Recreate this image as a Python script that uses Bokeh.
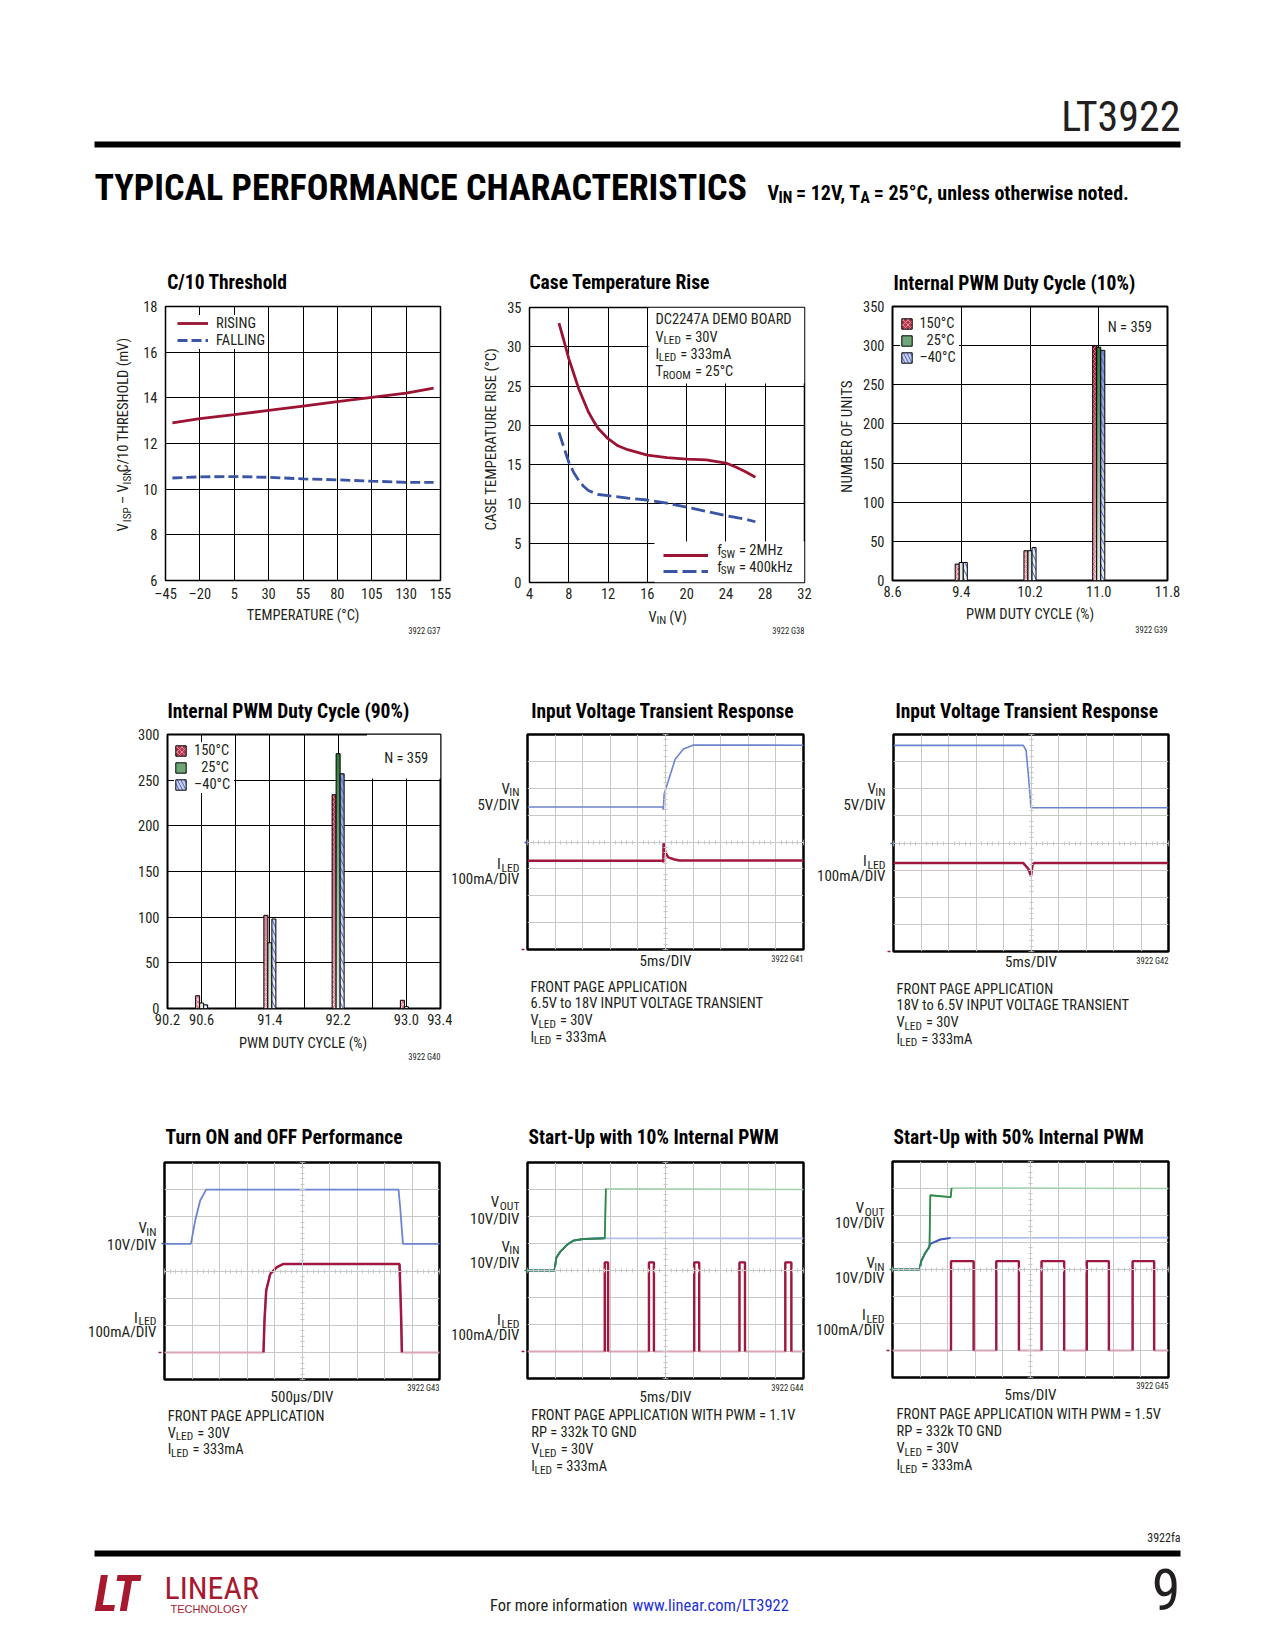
import numpy as np
from bokeh.plotting import figure
from bokeh.models import (Range1d, FixedTicker, Label, Legend, LegendItem, LinearAxis, Grid,
                          BoxAnnotation, NumeralTickFormatter, CustomJSTickFormatter)
from bokeh.layouts import column, row
from bokeh.embed import file_html
from bokeh.resources import INLINE

# ------------------------------------------------------------------ data
# C/10 Threshold (G37)
c10_temp_c = [-40, -20, 5, 30, 55, 80, 105, 130, 150]
c10_rising_mv = [12.90, 13.09, 13.26, 13.45, 13.64, 13.83, 14.02, 14.21, 14.43]
c10_falling_mv = [10.49, 10.54, 10.55, 10.52, 10.45, 10.41, 10.35, 10.30, 10.30]
c10_x_ticks = [-45, -20, 5, 30, 55, 80, 105, 130, 155]
c10_y_ticks = [6, 8, 10, 12, 14, 16, 18]

# Case Temperature Rise (G38)
ctr_vin_2mhz = [7, 7.5, 8, 8.5, 9, 9.5, 10, 10.5, 11, 12, 13, 14, 16, 18, 20, 22, 24, 25, 26, 27]
ctr_rise_2mhz = [33.0, 30.8, 28.5, 26.6, 24.7, 23.2, 21.7, 20.6, 19.6, 18.3, 17.4, 16.9, 16.2, 15.9,
                 15.7, 15.6, 15.2, 14.7, 14.1, 13.4]
ctr_vin_400k = [7, 7.5, 8, 8.5, 9, 9.5, 10, 11, 12, 14, 16, 18, 20, 22, 24, 26, 27]
ctr_rise_400k = [19.1, 17.2, 15.3, 14.0, 13.0, 12.25, 11.7, 11.2, 11.05, 10.75, 10.5, 10.1, 9.6,
                 9.05, 8.5, 8.07, 7.73]
ctr_x_ticks = [4, 8, 12, 16, 20, 24, 28, 32]
ctr_y_ticks = [0, 5, 10, 15, 20, 25, 30, 35]

# Internal PWM Duty Cycle 10% (G39)
d10_bins = [9.4, 10.2, 11.0]
d10_n_150c = [21, 38, 300]
d10_n_25c = [23, 38, 298]
d10_n_m40c = [23, 42, 294]
d10_x_ticks = [8.6, 9.4, 10.2, 11.0, 11.8]
d10_y_ticks = [0, 50, 100, 150, 200, 250, 300, 350]

# Internal PWM Duty Cycle 90% (G40)
d90_bins = [90.6, 91.4, 92.2, 93.0]
d90_n_150c = [14, 102, 234, 9]
d90_n_25c = [6, 72, 279, 2]
d90_n_m40c = [4, 98, 257, 0]
d90_x_ticks = [90.2, 90.6, 91.4, 92.2, 93.0, 93.4]
d90_x_grid = [90.6, 91.0, 91.4, 91.8, 92.2, 92.6, 93.0]
d90_y_ticks = [0, 50, 100, 150, 200, 250, 300]

# Input voltage transient 6.5V -> 18V (G41), time in ms
g41_vin_t = [0, 24.5, 24.6, 24.75, 26.75, 28.25, 30.1, 50]
g41_vin_v = [6.5, 6.5, 6.0, 8.9, 15.4, 17.3, 18.05, 18.0]
g41_iled_t = [0, 24.5, 24.6, 24.65, 25.0, 25.5, 26.5, 27.5, 50]
g41_iled_ma = [330, 330, 325, 395, 360, 343, 336, 331, 331]

# Input voltage transient 18V -> 6.5V (G42)
g42_vin_t = [0, 23.6, 24.1, 24.5, 25.0, 50]
g42_vin_v = [18.0, 18.0, 17.1, 12.8, 6.5, 6.5]
g42_iled_t = [0, 23.6, 24.5, 25.0, 25.3, 25.6, 50]
g42_iled_ma = [326, 326, 305, 278, 321, 326, 326]

# Turn ON and OFF (G43), time in us
g43_vin_t = [0, 480, 558, 649, 758, 4255, 4285, 4335, 5000]
g43_vin_v = [0, 0, 8.6, 16.0, 20.0, 20.0, 13.5, 0, 0]
g43_iled_t = [0, 1800, 1818, 1849, 1922, 2044, 2164, 4273, 4300, 4316, 5000]
g43_iled_ma = [0, 0, 117, 228, 289, 314, 326, 326, 150, 0, 0]

# Start-up with 10% internal PWM (G44), time in ms
g44_vout_t = [0, 4.9, 5.2, 5.95, 7.15, 8.35, 10.2, 13.8, 14.0, 14.2, 50]
g44_vout_v = [0, 0, 4.6, 7.0, 9.5, 11.1, 11.7, 11.9, 11.9, 30.3, 30.0]
g44_vin_t = [0, 4.9, 5.2, 5.95, 7.15, 8.35, 10.2, 13.8, 50]
g44_vin_v = [0, 0, 4.6, 7.0, 9.5, 11.1, 11.7, 11.9, 11.9]
g44_pulse_rise_ms = [14.0, 22.0, 30.2, 38.4, 46.7]
g44_pulse_fall_ms = [14.6, 22.9, 31.1, 39.4, 47.8]
g44_pulse_ma = 330

# Start-up with 50% internal PWM (G45)
g45_vout_t = [0, 4.9, 5.2, 5.95, 6.55, 6.7, 6.85, 10.45, 10.55, 10.7, 50]
g45_vout_v = [0, 0, 3.1, 6.2, 8.0, 8.3, 27.5, 26.8, 26.8, 30.2, 30.0]
g45_vin_t = [0, 4.9, 5.2, 5.95, 6.55, 6.85, 8.65, 10.5, 50]
g45_vin_v = [0, 0, 3.1, 6.2, 8.0, 9.5, 11.1, 11.7, 11.8]
g45_pulse_rise_ms = [10.6, 18.8, 27.0, 35.2, 43.5]
g45_pulse_fall_ms = [14.7, 22.9, 31.1, 39.2, 47.4]
g45_pulse_ma = 331

# ------------------------------------------------------------------ style
FONT = "Liberation Sans Narrow, Roboto Condensed, DejaVu Sans Condensed, sans-serif"
FONT_WIDE = "Liberation Sans, Arial, sans-serif"
INK = "#231f20"
RED = "#9c1433"
BLUE = "#3a55a6"
GRID_S = "#c8c8c8"
VIN_MID = "#6d84cf"
VIN_DARK = "#3f5cbd"
VIN_LIGHT = "#b3c0ea"
VOUT_DARK = "#2e8a43"
VOUT_LIGHT = "#a6d4ae"
ILED_DARK = "#a0183f"
ILED_PINK = "#d8a6b5"
RED_HI, RED_LO = "#991530", "#f2c6cd"
GRN_HI, GRN_LO = "#2c7a39", "#e8f0e8"
BLU_HI, BLU_LO = "#8290d0", "#eff1fa"
BAR_W = 0.047
BAR_OFF = 0.047
BODY = 14.5
SUB_SCALE = 0.78
SUB_DROP = 0.25

# Arial advance widths (1/1000 em), scaled for the condensed face
W = {' ': 278, '!': 278, '%': 889, '(': 333, ')': 333, ',': 278, '-': 333, '.': 278, '/': 278,
     ':': 278, '=': 584, '°': 400, '–': 556, 'µ': 577, '\u2007': 556}
for ch in '0123456789':
    W[ch] = 556
W.update(dict(zip('ABCDEFGHIJKLMNOPQRSTUVWXYZ',
                  [667, 667, 722, 722, 667, 611, 778, 722, 278, 500, 667, 556, 833, 722, 778, 667,
                   778, 722, 667, 611, 722, 667, 944, 667, 667, 611])))
W.update(dict(zip('abcdefghijklmnopqrstuvwxyz',
                  [556, 556, 500, 556, 556, 278, 556, 556, 222, 222, 500, 222, 833, 556, 556, 556,
                   556, 333, 500, 278, 556, 500, 722, 500, 500, 500])))


def tw(s, size, scale=1.0):
    return sum(W.get(c, 556) * (0.82 if c.isupper() else 0.86) for c in s) * size / 1000.0 * scale


def put(fig, G, px, py, segs, size, color=INK, align="left", bold=False, italic=False,
        angle=0.0, font=FONT, scale=1.0, gap=0.0):
    """Text at page pixel (px, py) = cap centre. G=None: fig uses page coords as data."""
    if isinstance(segs, str):
        segs = [(segs, 0)]
    ssz = size * SUB_SCALE
    ws = [tw(t, ssz if s else size, scale) for t, s in segs]
    tot = sum(ws) + gap * (len(ws) - 1)
    style = ("bold " if bold else "") + ("italic" if italic else "")
    style = style.strip() or "normal"
    placed = []   # (text, x, y, text_align, size)
    if angle == 0.0 and align == "right":
        xr = px
        for (t, s), w in reversed(list(zip(segs, ws))):
            placed.append((t.lstrip(' '), xr, py + (size * SUB_DROP if s else 0.0), "right",
                           ssz if s else size))
            xr -= w
    elif len(segs) == 1 and (angle != 0.0 or align == "center"):
        placed.append((segs[0][0], px, py, "center", size))
    else:
        pos = {"left": 0.0, "right": -tot, "center": -tot / 2}[align]
        for (t, s), w in zip(segs, ws):
            sz = ssz if s else size
            drop = size * SUB_DROP if s else 0.0
            body = t.lstrip(' ')
            lead = tw(t[:len(t) - len(body)], sz, scale)
            if angle == 0.0:
                placed.append((body, px + pos + lead, py + drop, "left", sz))
            else:
                placed.append((body, px + drop, py - (pos + lead + (w - lead) / 2), "center", sz))
            pos += w + gap
    for body, xp, yp, al, sz in placed:
        if G is None:
            kw = dict(x=xp, y=yp, x_units="data", y_units="data")
        else:
            kw = dict(x=xp - G['L'], y=G['B'] - yp, x_units="screen", y_units="screen")
        fig.add_layout(Label(text=body, text_font=font, text_font_size="%.1fpx" % sz,
                             text_color=color, text_align=al, text_baseline="middle",
                             text_font_style=style, angle=angle, **kw))


def page_fig(x0, y0, x1, y1):
    p = figure(width=int(x1 - x0), height=int(y1 - y0), x_range=Range1d(x0, x1),
               y_range=Range1d(y1, y0), x_axis_type=None, y_axis_type=None,
               toolbar_location=None, output_backend="svg", title=None, min_border=0)
    p.outline_line_color = None
    p.border_fill_color = "white"
    p.background_fill_color = "white"
    return p


COLS = [(0, 452), (452, 362), (814, 461)]
ROWS = [(250, 405), (655, 430), (1085, 405)]


def cell(c, r, L, T, R, B, mbl, mbt, mbb):
    cx, cw = COLS[c]
    ry, rh = ROWS[r]
    C = dict(L=L, T=T, R=R, B=B, cx=cx, cw=cw, ry=ry, rh=rh, mbl=mbl, mbt=mbt, mbb=mbb,
             fx0=L - mbl, fy0=T - mbt, fy1=B + mbb)
    C['top'] = page_fig(cx, ry, cx + cw, C['fy0'])
    C['left'] = page_fig(cx, C['fy0'], C['fx0'], C['fy1'])
    C['bottom'] = page_fig(cx, C['fy1'], cx + cw, ry + rh)
    return C


def chart_fig(C, xr, yr, axes=True):
    kw = dict(width=C['cx'] + C['cw'] - C['fx0'], height=C['fy1'] - C['fy0'], x_range=xr, y_range=yr,
              toolbar_location=None, output_backend="svg", title=None,
              min_border_left=C['mbl'], min_border_right=C['cx'] + C['cw'] - C['R'],
              min_border_top=C['mbt'], min_border_bottom=C['mbb'])
    if not axes:
        kw.update(x_axis_type=None, y_axis_type=None)
    p = figure(**kw)
    p.border_fill_color = "white"
    p.background_fill_color = "white"
    C['fig'] = p
    return p


def cell_layout(C):
    return column(C['top'], row(C['left'], C['fig']), C['bottom'])


def style_xy(p, xticks, yticks, xgrid, ygrid):
    p.outline_line_color = "black"
    p.outline_line_width = 1.5
    p.xaxis.ticker = FixedTicker(ticks=xticks)
    p.yaxis.ticker = FixedTicker(ticks=yticks)
    p.xgrid.ticker = FixedTicker(ticks=xgrid)
    p.ygrid.ticker = FixedTicker(ticks=ygrid)
    p.grid.grid_line_color = "black"
    p.grid.grid_line_width = 1
    p.axis.axis_line_color = None
    p.axis.major_tick_line_color = None
    p.axis.minor_tick_line_color = None
    p.axis.major_tick_out = 0
    p.axis.major_tick_in = 0
    p.axis.major_label_text_font = FONT
    p.axis.major_label_text_font_size = "%.1fpx" % BODY
    p.axis.major_label_text_color = INK
    p.xaxis.major_label_standoff = 5
    p.yaxis.major_label_standoff = 8


def legend(p, C, items, x0, row_c, glyph_w, glyph_h, standoff, label_w=20, row_h=16.2, pad=5,
           bg_alpha=1.0):
    n = len(items)
    top = row_c - row_h / 2 - pad
    bottom = top + 2 * pad + n * row_h
    leg = Legend(items=items, location=(x0 - C['L'], C['B'] - bottom + 1.5), orientation="vertical",
                 glyph_width=glyph_w, glyph_height=glyph_h, label_standoff=standoff,
                 label_width=label_w, label_height=16, padding=pad, margin=0, spacing=0,
                 border_line_color=None, background_fill_color="white", background_fill_alpha=bg_alpha,
                 label_text_font=FONT, label_text_font_size="%.1fpx" % BODY, label_text_color=INK)
    p.add_layout(leg)


def lerp(c0, c1, t):
    a = [int(c0[i:i + 2], 16) for i in (1, 3, 5)]
    b = [int(c1[i:i + 2], 16) for i in (1, 3, 5)]
    return "#%02x%02x%02x" % tuple(int(round(a[k] + (b[k] - a[k]) * t)) for k in range(3))


def grad_bars(p, centers, vals, off, lo, hi, vmax, hatch, hcolor, hscale, step=4.0):
    xs, bots, tops, cols, hx, ht = [], [], [], [], [], []
    for c, v in zip(centers, vals):
        if v <= 0:
            continue
        x = c + off
        hx.append(x)
        ht.append(v)
        b = 0.0
        while b < v:
            xs.append(x)
            bots.append(b)
            tops.append(min(v, b + step * 1.3))
            cols.append(lerp(lo, hi, min(1.0, (b + step / 2) / vmax)))
            b += step
    p.vbar(x=xs, bottom=bots, top=tops, width=BAR_W, fill_color=cols, line_color=None)
    p.vbar(x=hx, bottom=0, top=ht, width=BAR_W, fill_color=None, line_color="black", line_width=1,
           hatch_pattern=hatch, hatch_color=hcolor, hatch_scale=hscale, hatch_weight=1)


def bar_legend_items(p, xr):
    far = xr[1] + 10 * (xr[1] - xr[0])      # legend proxy, outside the visible range
    specs = [("150°C", "#b33a50", "x", "#e58a99", 5),
             ("\u200725°C", "#6ea677", None, "#ffffff", 5),
             ("–40°C", "#c8cfee", "\\", "#4d66c4", 7)]
    items = []
    for lab, col, hat, hcol, hs in specs:
        r = p.vbar(x=[far], top=[1], width=BAR_W, fill_color=col, line_color="black", line_width=1,
                   hatch_pattern=hat, hatch_color=hcol, hatch_scale=hs)
        items.append(LegendItem(label=lab, renderers=[r]))
    return items


def page_to_data(C, xr, yr, px, py):
    x = xr[0] + (px - C['L']) / (C['R'] - C['L']) * (xr[1] - xr[0])
    y = yr[0] + (C['B'] - py) / (C['B'] - C['T']) * (yr[1] - yr[0])
    return x, y


BLANK = CustomJSTickFormatter(code="return ''")


def make_scope(C, t_end, yranges, markers):
    p = chart_fig(C, Range1d(0, t_end), Range1d(0, 8), axes=False)
    p.extra_y_ranges = yranges
    p.outline_line_color = "black"
    p.outline_line_width = 2.5
    p.add_layout(Grid(dimension=0, ticker=FixedTicker(ticks=[t_end * k / 10 for k in range(1, 10)]),
                      grid_line_color=GRID_S, grid_line_width=1))
    p.add_layout(Grid(dimension=1, ticker=FixedTicker(ticks=list(range(1, 8))),
                      grid_line_color=GRID_S, grid_line_width=1))
    for rname, col in markers:
        ax = LinearAxis(y_range_name=rname, ticker=FixedTicker(ticks=[0]), formatter=BLANK,
                        axis_line_color=None, major_tick_line_color=col, major_tick_line_width=1.5,
                        major_tick_in=0, major_tick_out=3, major_label_standoff=0,
                        major_label_text_font_size="0px", minor_tick_line_color=None)
        p.add_layout(ax, "left")
    hx = LinearAxis(fixed_location=4,
                    ticker=FixedTicker(ticks=[t_end * k / 10 for k in range(11)],
                                       minor_ticks=[t_end * k / 50 for k in range(51)]),
                    formatter=BLANK, axis_line_color=GRID_S, major_tick_line_color=GRID_S,
                    minor_tick_line_color=GRID_S, major_tick_in=3, major_tick_out=3,
                    minor_tick_in=2, minor_tick_out=2, major_label_standoff=0,
                    major_label_text_font_size="0px")
    p.add_layout(hx, "below")
    vy = LinearAxis(fixed_location=t_end / 2,
                    ticker=FixedTicker(ticks=list(range(9)), minor_ticks=[k * 0.2 for k in range(41)]),
                    formatter=BLANK, axis_line_color=GRID_S, major_tick_line_color=GRID_S,
                    minor_tick_line_color=GRID_S, major_tick_in=3, major_tick_out=3,
                    minor_tick_in=2, minor_tick_out=2, major_label_standoff=0,
                    major_label_text_font_size="0px")
    p.add_layout(vy, "right")
    return p


def active(y, thr=5.0):
    y = np.asarray(y, dtype=float)
    a = np.abs(y) > thr
    a2 = a | np.r_[a[1:], False] | np.r_[False, a[:-1]]
    return np.where(a2, y, np.nan)


def pulse_trace(t_end, rises, falls, level):
    t, y, td, yd = [0.0], [0.0], [], []
    for r, f in zip(rises, falls):
        t += [r, r, f, f]
        y += [0, level, level, 0]
        td += [r, r, f, f, np.nan]
        yd += [0, level, level, 0, np.nan]
    t.append(t_end)
    y.append(0)
    return t, y, np.array(td, float), np.array(yd, float)


def early(t, v, t_max):
    t = np.asarray(t, float)
    v = np.asarray(v, float)
    m = t <= t_max
    return t[m], v[m]


def note(fig, G, x, y0, lines, pitch=16.7, size=BODY):
    for k, ln in enumerate(lines):
        put(fig, G, x, y0 + k * pitch, ln, size)


def title(C, x, y, text):
    put(C['top'], None, x, y, text, 19.5, color="black", bold=True)


VLED = [("V", 0), ("LED", 1), (" = 30V", 0)]
ILED = [("I", 0), ("LED", 1), (" = 333mA", 0)]
VIN_ = [("V", 0), ("IN", 1)]
IL_ = [("I", 0), ("LED", 1)]
VOUT_ = [("V", 0), ("OUT", 1)]

# ------------------------------------------------------------------ chart 1
C1 = cell(0, 0, 165, 306, 440, 581, 30, 10, 24)
x1, y1 = (-45, 155), (6, 18)
p1 = chart_fig(C1, Range1d(*x1), Range1d(*y1))
style_xy(p1, c10_x_ticks, c10_y_ticks, c10_x_ticks[1:-1], c10_y_ticks[1:-1])
p1.xaxis.major_label_overrides = {-45: "–45", -20: "–20"}
r_rise = p1.line(c10_temp_c, c10_rising_mv, line_color=RED, line_width=2.8)
r_fall = p1.line(c10_temp_c, c10_falling_mv, line_color=BLUE, line_width=2.8, line_dash="10 4")
legend(p1, C1, [LegendItem(label="RISING", renderers=[r_rise]),
                LegendItem(label="FALLING", renderers=[r_fall])],
       x0=177, row_c=321.7, glyph_w=31, glyph_h=16, standoff=8)
title(C1, 166.7, 282, "C/10 Threshold")
put(C1['left'], None, 123.3, 445,
    [("V", 0), ("ISP", 1), (" – V", 0), ("ISN", 1), (" C/10 THRESHOLD (mV)", 0)],
    14.5, align="center", angle=np.pi / 2, gap=3.0)
put(C1['bottom'], None, 302.5, 615, "TEMPERATURE (°C)", BODY, align="center")
put(C1['bottom'], None, 440, 630, "3922 G37", 8.5, align="right")

# ------------------------------------------------------------------ chart 2
C2 = cell(1, 0, 529, 307, 804, 582, 27, 10, 24)
x2, y2 = (4, 32), (0, 35)
p2 = chart_fig(C2, Range1d(*x2), Range1d(*y2))
style_xy(p2, ctr_x_ticks, ctr_y_ticks, ctr_x_ticks[1:-1], ctr_y_ticks[1:-1])
bx, by = page_to_data(C2, x2, y2, 648, 383)
p2.add_layout(BoxAnnotation(left=bx, bottom=by, fill_color="white", fill_alpha=1.0,
                            line_color=None, level="underlay"))
lx, ly = page_to_data(C2, x2, y2, 654, 541)
p2.add_layout(BoxAnnotation(left=lx, top=ly, fill_color="white", fill_alpha=1.0,
                            line_color=None, level="underlay"))
r_2m = p2.line(ctr_vin_2mhz, ctr_rise_2mhz, line_color=RED, line_width=2.8)
r_4k = p2.line(ctr_vin_400k, ctr_rise_400k, line_color=BLUE, line_width=2.8, line_dash="14 5")
legend(p2, C2, [LegendItem(label="", renderers=[r_2m]), LegendItem(label="", renderers=[r_4k])],
       x0=662.7, row_c=550, glyph_w=45, glyph_h=16, standoff=9, label_w=78, row_h=16.7,
       bg_alpha=0.0)
put(p2, C2, 716.7, 550, [("f", 0), ("SW", 1), (" = 2MHz", 0)], BODY)
put(p2, C2, 716.7, 566.7, [("f", 0), ("SW", 1), (" = 400kHz", 0)], BODY)
title(C2, 529, 282, "Case Temperature Rise")
put(C2['left'], None, 490.7, 445, "CASE TEMPERATURE RISE (°C)", 15, angle=np.pi / 2)
put(C2['bottom'], None, 666.5, 616.7, [("V", 0), ("IN", 1), (" (V)", 0)], BODY, align="center")
put(C2['bottom'], None, 804, 630, "3922 G38", 8.5, align="right")
note(p2, C2, 655, 319.3, ["DC2247A DEMO BOARD", VLED, ILED,
                          [("T", 0), ("ROOM", 1), (" = 25°C", 0)]], pitch=17.2)

# ------------------------------------------------------------------ chart 3
C3 = cell(2, 0, 892, 306, 1167, 580, 32, 10, 24)
x3, y3 = (8.6, 11.8), (0, 350)
p3 = chart_fig(C3, Range1d(*x3), Range1d(*y3))
style_xy(p3, d10_x_ticks, d10_y_ticks, d10_x_ticks[1:-1], d10_y_ticks[1:-1])
p3.outline_line_width = 2
p3.xaxis.formatter = NumeralTickFormatter(format="0.0")
grad_bars(p3, d10_bins, d10_n_150c, -BAR_OFF, RED_LO, RED_HI, 300, "x", "#df7a8b", 5)
grad_bars(p3, d10_bins, d10_n_25c, 0.0, GRN_LO, GRN_HI, 300, None, "#ffffff", 5)
grad_bars(p3, d10_bins, d10_n_m40c, BAR_OFF, BLU_LO, BLU_HI, 300, "\\", "#4d66c4", 9)
legend(p3, C3, bar_legend_items(p3, x3), x0=900.4, row_c=322.3, glyph_w=13, glyph_h=13,
       standoff=6, label_w=40)
title(C3, 893, 283, "Internal PWM Duty Cycle (10%)")
put(C3['left'], None, 846, 442.3, "NUMBER OF UNITS", 15, angle=np.pi / 2)
put(C3['bottom'], None, 1029.5, 614.3, "PWM DUTY CYCLE (%)", BODY, align="center")
put(p3, C3, 1107.3, 326.7, "N = 359", BODY)
put(C3['bottom'], None, 1167, 629.3, "3922 G39", 8.5, align="right")

# ------------------------------------------------------------------ chart 4
C4 = cell(0, 1, 165, 734, 440, 1008, 30, 10, 24)
x4, y4 = (90.2, 93.4), (0, 300)
p4 = chart_fig(C4, Range1d(*x4), Range1d(*y4))
style_xy(p4, d90_x_ticks, d90_y_ticks, d90_x_grid, d90_y_ticks[1:-1])
p4.outline_line_width = 2
p4.xaxis.formatter = NumeralTickFormatter(format="0.0")
nbx, nby = page_to_data(C4, x4, y4, 366, 778)
p4.add_layout(BoxAnnotation(left=nbx, bottom=nby, fill_color="white", fill_alpha=1.0,
                            line_color=None, level="underlay"))
grad_bars(p4, d90_bins, d90_n_150c, -BAR_OFF, RED_LO, RED_HI, 280, "x", "#df7a8b", 5)
grad_bars(p4, d90_bins, d90_n_25c, 0.0, GRN_LO, GRN_HI, 280, None, "#ffffff", 5)
grad_bars(p4, d90_bins, d90_n_m40c, BAR_OFF, BLU_LO, BLU_HI, 280, "\\", "#4d66c4", 9)
legend(p4, C4, bar_legend_items(p4, x4), x0=172, row_c=749.3, glyph_w=13, glyph_h=13,
       standoff=7, label_w=40)
title(C4, 167, 710.7, "Internal PWM Duty Cycle (90%)")
put(C4['bottom'], None, 302.5, 1042.7, "PWM DUTY CYCLE (%)", BODY, align="center")
put(p4, C4, 381.7, 758.3, "N = 359", BODY)
put(C4['bottom'], None, 440, 1056.7, "3922 G40", 8.5, align="right")

# ------------------------------------------------------------------ chart 5
C5 = cell(1, 1, 527, 734, 803, 949, 6, 4, 3)
p5 = make_scope(C5, 50, {"vin": Range1d(-20, 20), "iled": Range1d(0, 800)},
                [("vin", BLUE), ("iled", ILED_DARK)])
p5.line(g41_vin_t, g41_vin_v, y_range_name="vin", line_color=VIN_MID, line_width=1.6)
p5.line(g41_iled_t, g41_iled_ma, y_range_name="iled", line_color=ILED_DARK, line_width=2.5)
title(C5, 530.7, 710.7, "Input Voltage Transient Response")
LF = C5['left']
put(LF, None, 519, 786, VIN_, 15, align="right")
put(LF, None, 519, 802.3, "5V/DIV", 15, align="right")
put(LF, None, 519, 864, IL_, 15, align="right")
put(LF, None, 519, 879.3, "100mA/DIV", 15, align="right")
put(C5['bottom'], None, 665, 960, "5ms/DIV", 15, align="center")
put(C5['bottom'], None, 803, 958, "3922 G41", 8.5, align="right")
note(C5['bottom'], None, 530, 986.7,
     ["FRONT PAGE APPLICATION", "6.5V to 18V INPUT VOLTAGE TRANSIENT", VLED, ILED])

# ------------------------------------------------------------------ chart 6
C6 = cell(2, 1, 893, 734, 1168, 951, 6, 4, 3)
p6 = make_scope(C6, 50, {"vin": Range1d(-20, 20), "iled": Range1d(0, 800)},
                [("vin", BLUE), ("iled", ILED_DARK)])
p6.line(g42_vin_t, g42_vin_v, y_range_name="vin", line_color=VIN_MID, line_width=1.6)
p6.line(g42_iled_t, g42_iled_ma, y_range_name="iled", line_color=ILED_DARK, line_width=2.5)
title(C6, 895, 710.7, "Input Voltage Transient Response")
LF = C6['left']
put(LF, None, 885, 786, VIN_, 15, align="right")
put(LF, None, 885, 802.3, "5V/DIV", 15, align="right")
put(LF, None, 885, 860.7, IL_, 15, align="right")
put(LF, None, 885, 876, "100mA/DIV", 15, align="right")
put(C6['bottom'], None, 1030.5, 961, "5ms/DIV", 15, align="center")
put(C6['bottom'], None, 1168, 960, "3922 G42", 8.5, align="right")
note(C6['bottom'], None, 896, 988.7,
     ["FRONT PAGE APPLICATION", "18V to 6.5V INPUT VOLTAGE TRANSIENT", VLED, ILED])

# ------------------------------------------------------------------ chart 7
C7 = cell(0, 2, 164, 1162, 439, 1379, 6, 4, 3)
p7 = make_scope(C7, 5000, {"vin": Range1d(-50, 30), "iled": Range1d(-100, 700)},
                [("vin", BLUE), ("iled", ILED_DARK)])
p7.line(g43_vin_t, g43_vin_v, y_range_name="vin", line_color=VIN_MID, line_width=1.8)
p7.line(g43_iled_t, g43_iled_ma, y_range_name="iled", line_color=ILED_PINK, line_width=2)
p7.line(g43_iled_t, active(g43_iled_ma), y_range_name="iled", line_color=ILED_DARK, line_width=2.5)
title(C7, 165, 1136.7, "Turn ON and OFF Performance")
LF = C7['left']
put(LF, None, 156, 1226, VIN_, 15, align="right")
put(LF, None, 156, 1243.3, "10V/DIV", 15, align="right")
put(LF, None, 156, 1318.3, IL_, 15, align="right")
put(LF, None, 156, 1333.3, "100mA/DIV", 15, align="right")
put(C7['bottom'], None, 301.5, 1396, "500µs/DIV", 15, align="center")
put(C7['bottom'], None, 439, 1387, "3922 G43", 8.5, align="right")
note(C7['bottom'], None, 167.3, 1416, ["FRONT PAGE APPLICATION", VLED, ILED])

# ------------------------------------------------------------------ chart 8
C8 = cell(1, 2, 527, 1162, 803, 1378, 6, 4, 3)
p8 = make_scope(C8, 50, {"v": Range1d(-40, 40), "iled": Range1d(-100, 700)},
                [("v", VOUT_DARK), ("iled", ILED_DARK)])
t8, i8, t8d, i8d = pulse_trace(50, g44_pulse_rise_ms, g44_pulse_fall_ms, g44_pulse_ma)
p8.line(g44_vin_t, g44_vin_v, y_range_name="v", line_color=VIN_LIGHT, line_width=1.6)
p8.line(g44_vout_t, g44_vout_v, y_range_name="v", line_color=VOUT_LIGHT, line_width=1.6)
p8.line(*early(g44_vin_t, g44_vin_v, 14.0), y_range_name="v", line_color=VIN_DARK, line_width=2)
p8.line(*early(g44_vout_t, g44_vout_v, 14.2), y_range_name="v", line_color=VOUT_DARK, line_width=1.8)
p8.line(t8, i8, y_range_name="iled", line_color=ILED_PINK, line_width=1.8)
p8.line(t8d, i8d, y_range_name="iled", line_color=ILED_DARK, line_width=2.4)
title(C8, 528, 1137, "Start-Up with 10% Internal PWM")
LF = C8['left']
put(LF, None, 519, 1199, VOUT_, 15, align="right")
put(LF, None, 519, 1216, "10V/DIV", 15, align="right")
put(LF, None, 519, 1245, VIN_, 15, align="right")
put(LF, None, 519, 1261.7, "10V/DIV", 15, align="right")
put(LF, None, 519, 1320.7, IL_, 15, align="right")
put(LF, None, 519, 1336, "100mA/DIV", 15, align="right")
put(C8['bottom'], None, 665, 1396, "5ms/DIV", 15, align="center")
put(C8['bottom'], None, 803, 1387, "3922 G44", 8.5, align="right")
note(C8['bottom'], None, 530.7, 1415,
     ["FRONT PAGE APPLICATION WITH PWM = 1.1V", "RP = 332k TO GND", VLED, ILED], pitch=17)

# ------------------------------------------------------------------ chart 9
C9 = cell(2, 2, 892, 1161, 1168, 1377, 6, 4, 3)
p9 = make_scope(C9, 50, {"v": Range1d(-40, 40), "iled": Range1d(-100, 700)},
                [("v", VOUT_DARK), ("iled", ILED_DARK)])
t9, i9, t9d, i9d = pulse_trace(50, g45_pulse_rise_ms, g45_pulse_fall_ms, g45_pulse_ma)
p9.line(g45_vin_t, g45_vin_v, y_range_name="v", line_color=VIN_LIGHT, line_width=1.6)
p9.line(g45_vout_t, g45_vout_v, y_range_name="v", line_color=VOUT_LIGHT, line_width=1.6)
p9.line(*early(g45_vin_t, g45_vin_v, 10.5), y_range_name="v", line_color=VIN_DARK, line_width=2)
p9.line(*early(g45_vout_t, g45_vout_v, 10.7), y_range_name="v", line_color=VOUT_DARK, line_width=1.8)
p9.line(t9, i9, y_range_name="iled", line_color=ILED_PINK, line_width=1.8)
p9.line(t9d, i9d, y_range_name="iled", line_color=ILED_DARK, line_width=2.4)
title(C9, 893, 1137, "Start-Up with 50% Internal PWM")
LF = C9['left']
put(LF, None, 884, 1205, VOUT_, 15, align="right")
put(LF, None, 884, 1220.5, "10V/DIV", 15, align="right")
put(LF, None, 884, 1261.7, VIN_, 15, align="right")
put(LF, None, 884, 1277.3, "10V/DIV", 15, align="right")
put(LF, None, 884, 1315.7, IL_, 15, align="right")
put(LF, None, 884, 1330.7, "100mA/DIV", 15, align="right")
put(C9['bottom'], None, 1030, 1394, "5ms/DIV", 15, align="center")
put(C9['bottom'], None, 1168, 1385.5, "3922 G45", 8.5, align="right")
note(C9['bottom'], None, 896, 1414,
     ["FRONT PAGE APPLICATION WITH PWM = 1.5V", "RP = 332k TO GND", VLED, ILED], pitch=17)

# ------------------------------------------------------------------ header / footer
hdr = page_fig(0, 0, 1275, 250)
hdr.quad(left=[94], right=[1180], top=[141], bottom=[147], fill_color="black", line_color=None)
put(hdr, None, 1180, 116, "LT3922", 42, color=INK, align="right")
put(hdr, None, 94, 187, "TYPICAL PERFORMANCE CHARACTERISTICS", 36, color="black", bold=True)
put(hdr, None, 767, 192, [("V", 0), ("IN", 1), (" = 12V, T", 0), ("A", 1),
                          (" = 25°C, unless otherwise noted.", 0)], 20, color="black", bold=True)

ftr = page_fig(0, 1490, 1275, 1648)
ftr.quad(left=[94], right=[1180], top=[1550], bottom=[1556], fill_color="black", line_color=None)
put(ftr, None, 1180, 1537, "3922fa", 12, align="right")
put(ftr, None, 94, 1593, "LT", 50, color="#a6192e", bold=True, italic=True)
put(ftr, None, 164, 1587, "LINEAR", 32, color="#a6192e")
put(ftr, None, 170, 1608, "TECHNOLOGY", 11, color="#a6192e", font=FONT_WIDE, scale=1.2)
put(ftr, None, 627, 1605, "For more information", 16.5, color=INK, align="right")
put(ftr, None, 632, 1605, "www.linear.com/LT3922", 16.5, color="#1f2fd8")
put(ftr, None, 1180, 1589, "9", 58, color=INK, align="right")

layout = column(hdr,
                row(cell_layout(C1), cell_layout(C2), cell_layout(C3)),
                row(cell_layout(C4), cell_layout(C5), cell_layout(C6)),
                row(cell_layout(C7), cell_layout(C8), cell_layout(C9)),
                ftr)
open("out.html", "w").write(file_html(layout, INLINE, title="LT3922 Typical Performance Characteristics"))
